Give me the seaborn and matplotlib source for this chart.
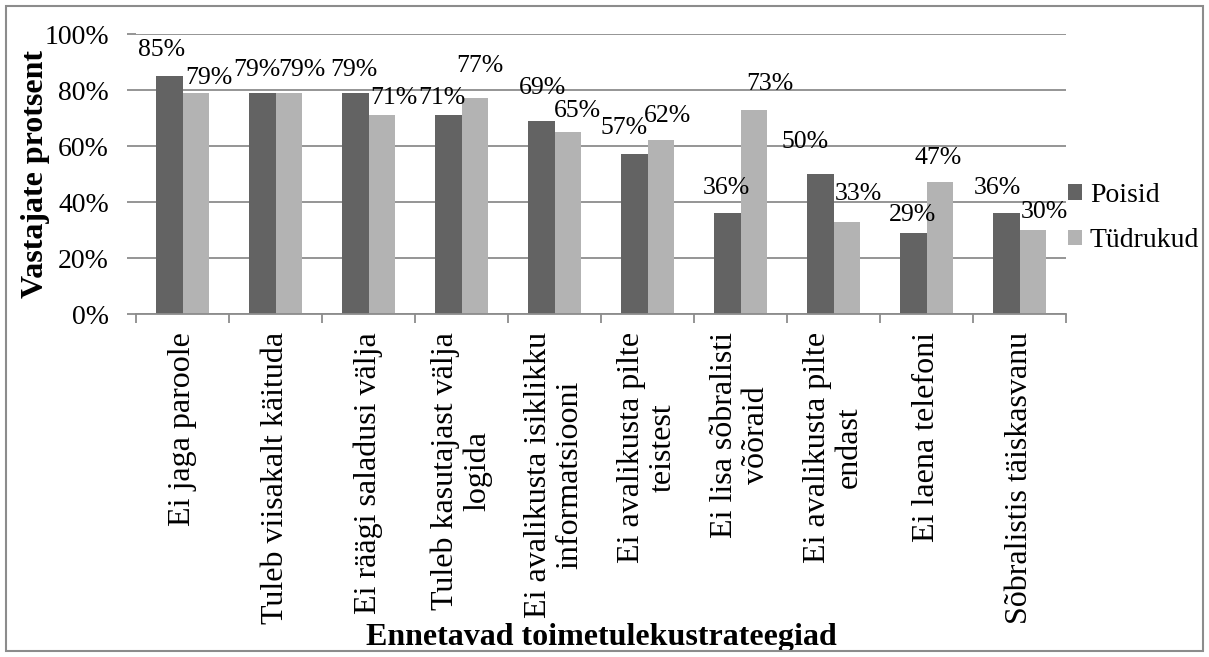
import numpy as np
import pandas as pd
import matplotlib
matplotlib.use("Agg")
import matplotlib.pyplot as plt
import seaborn as sns
from matplotlib.ticker import PercentFormatter
from matplotlib.patches import Rectangle, Patch

# andmed
strateegiad = ['Ei jaga paroole', 'Tuleb viisakalt käituda', 'Ei räägi saladusi välja',
               'Tuleb kasutajast välja\nlogida', 'Ei avalikusta isiklikku\ninformatsiooni',
               'Ei avalikusta pilte\nteistest', 'Ei lisa sõbralisti\nvõõraid',
               'Ei avalikusta pilte\nendast', 'Ei laena telefoni', 'Sõbralistis täiskasvanu']
poisid = [85, 79, 79, 71, 69, 57, 36, 50, 29, 36]
tudrukud = [79, 79, 71, 77, 65, 62, 73, 33, 47, 30]
grupid = ['Poisid', 'Tüdrukud']

# sildi nihked pikslites (dx, dy) - käsitsi nagu originaalis
nihe_poisid = [(-8, 26), (-6, 23), (-2, 23), (-7, 17), (1, 33),
               (-10, 26), (-1, 25), (-15, 32), (-1, 18), (-9, 25)]
nihe_tudrukud = [(13, 15), (13, 23), (12, 17), (5, 32), (10, 21),
                 (7, 24), (16, 26), (12, 28), (-1, 24), (12, 18)]

df = pd.DataFrame({'Strateegia': strateegiad * 2,
                   'Protsent': poisid + tudrukud,
                   'Sugu': [grupid[0]] * len(poisid) + [grupid[1]] * len(tudrukud)})

tume = '#636363'
hele = '#b3b3b3'
joon = '#8c8c8c'

plt.rcParams['font.family'] = ['Liberation Serif', 'DejaVu Serif']
fs_silt = 18.5   # andmesildid
fs_telg = 20     # y-telje väärtused, legend
fs_suur = 23     # kategooriad, telgede nimed

fig = plt.figure(figsize=(12.09, 6.57), dpi=100)
ax = fig.add_axes([136 / 1209, 1 - 314 / 657, 930 / 1209, 280 / 657])

sns.barplot(data=df, x='Strateegia', y='Protsent', hue='Sugu', palette=[tume, hele],
            width=0.56, linewidth=0, gap=0, ax=ax, legend=False, errorbar=None)

ax.set_ylim(0, 100)
ax.set_xlim(-0.5, len(strateegiad) - 0.5)
ax.set_yticks(np.arange(0, 101, 20))
ax.yaxis.set_major_formatter(PercentFormatter(100, decimals=0))
ax.grid(axis='y', color=joon, linewidth=1.3)
ax.set_axisbelow(True)
for s in ['top', 'right', 'left']:
    ax.spines[s].set_visible(False)
ax.spines['bottom'].set_color(joon)
ax.spines['bottom'].set_linewidth(1.3)

ax.set_xticks(np.arange(len(strateegiad) + 1) - 0.5, minor=True)
ax.set_xticks(np.arange(len(strateegiad)))
ax.set_xticklabels(strateegiad, rotation=90, ha='center', va='top',
                   multialignment='center', fontsize=fs_suur, linespacing=1.1)
ax.tick_params(axis='x', which='major', length=0, pad=13)
ax.tick_params(axis='x', which='minor', length=6.5, width=1.3, color=joon)
ax.tick_params(axis='y', length=6.5, width=1.3, color=joon, labelsize=fs_telg, pad=13)

ax.set_ylabel('Vastajate protsent', fontsize=fs_suur, fontweight='bold', labelpad=-4)
ax.set_xlabel('Ennetavad toimetulekustrateegiad', fontsize=fs_suur, fontweight='bold', labelpad=-1)

# andmesildid
for konteiner, vaartused, nihked in zip(ax.containers, [poisid, tudrukud],
                                        [nihe_poisid, nihe_tudrukud]):
    for bar, v, (dx, dy) in zip(konteiner, vaartused, nihked):
        ax.annotate(f'{v}%', (bar.get_x() + bar.get_width() / 2, bar.get_height()),
                    xytext=(dx, dy), textcoords='offset pixels',
                    ha='center', va='center', fontsize=fs_silt, annotation_clip=False)

kasitsid = [Patch(facecolor=tume), Patch(facecolor=hele)]
fig.legend(kasitsid, grupid, loc='center left', bbox_to_anchor=(1065 / 1209, 1 - 218 / 657),
           frameon=False, fontsize=fs_telg, handlelength=0.5, handleheight=0.5,
           handletextpad=0.3, labelspacing=0.75, borderaxespad=0, borderpad=0.1)

fig.patches.append(Rectangle((6 / 1209, 6 / 657), 1197 / 1209, 645 / 657,
                             transform=fig.transFigure, fill=False,
                             edgecolor='#8c8c8c', linewidth=1.5))

fig.savefig('out.png', dpi=100)
